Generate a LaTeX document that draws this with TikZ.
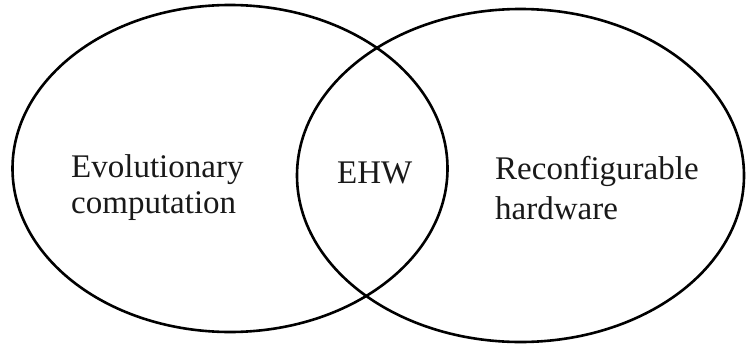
\documentclass[tikz,border=0pt]{standalone}
\usepackage{fontspec}
\setmainfont{Liberation Serif}
\begin{document}
\begin{tikzpicture}[x=1pt,y=-1pt,
  venn/.style={line width=2.6pt,black},
  lbl/.style={font=\fontsize{33}{36}\selectfont,inner sep=0pt,anchor=base west,text=black!90}]
\useasboundingbox (0,0) rectangle (746,345);
\draw[venn] (230,168.5) ellipse [x radius=217.5pt, y radius=163.5pt];
\draw[venn] (520.5,175.5) ellipse [x radius=223.5pt, y radius=166.5pt];
\node[lbl] (ec1) at (71,177) {Evolutionary};
\node[lbl] (ec2) at (71,213) {computation};
\node[lbl] (ehw) at (337,183) {EHW};
\node[lbl] (rh1) at (495,179) {Reconfigurable};
\node[lbl] (rh2) at (495,219) {hardware};
\end{tikzpicture}
\end{document}
